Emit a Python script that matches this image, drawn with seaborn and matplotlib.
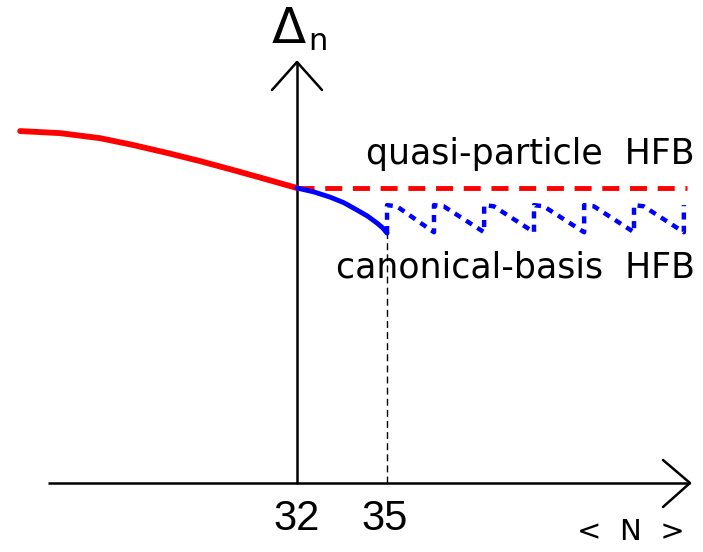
import matplotlib
matplotlib.use("Agg")
import matplotlib.pyplot as plt
import seaborn as sns
import numpy as np

sns.set_theme(style="white")
plt.rcParams['font.family'] = ['DejaVu Sans']
plt.rcParams['text.color'] = 'black'

red_n = [22.56, 23.92, 25.28, 26.40, 27.57, 28.70, 29.82, 30.90, 32.0]
red_d = [1.193, 1.186, 1.169, 1.146, 1.119, 1.091, 1.061, 1.031, 1.0]

qp_n = [32.0, 45.3]
qp_d = [1.0, 1.0]

blue_n = [32.0, 32.60, 33.13, 33.60, 34.05, 34.40, 34.73, 34.92, 35.07]
blue_d = [1.0, 0.986, 0.969, 0.950, 0.925, 0.905, 0.881, 0.865, 0.847]

saw_n = [35.07, 35.07, 35.40, 36.67, 36.67, 37.00, 38.38, 38.38, 38.71, 40.08,
         40.08, 40.41, 41.79, 41.79, 42.12, 43.49, 43.49, 43.82, 45.19, 45.19]
saw_d = [0.847, 0.942, 0.938, 0.850, 0.942, 0.938, 0.850, 0.942, 0.938, 0.850,
         0.942, 0.938, 0.850, 0.942, 0.938, 0.850, 0.942, 0.938, 0.850, 0.942]

tick_vals = [32, 35]
tick_labels = ["32", "35"]

# ---- figure ----
fig = plt.figure(figsize=(7.03, 5.52), dpi=100)
ax = fig.add_axes([0, 0, 1, 1])
px = 29.33   # pixels per N unit
py = 295.0   # pixels per Delta unit
ax.set_xlim(32 - 297 / px, 32 + 406 / px)
ax.set_ylim((483 - 552) / py, 483 / py)
ax.axis("off")

# axes with arrow heads
x0, x1 = 32 - 249 / px, 32 + 393 / px
ax.plot([x0, x1], [0, 0], color="black", lw=1.8, solid_capstyle="butt")
ax.plot([x1 - 27 / px, x1, x1 - 27 / px], [23 / py, 0, -24 / py], color="black", lw=1.8)
ytop = (483 - 62) / py
ax.plot([32, 32], [0, ytop], color="black", lw=1.8)
ax.plot([32 - 25 / px, 32, 32 + 25 / px], [ytop - 28 / py, ytop, ytop - 28 / py], color="black", lw=1.8)

# dashed guide at N = 35
ax.plot([35.07, 35.07], [0, 0.847], color="black", lw=1.0, ls=(0, (5, 3)))

# curves
sns.lineplot(x=red_n, y=red_d, ax=ax, color="#ff0000", lw=4.2, sort=False, estimator=None)
sns.lineplot(x=qp_n, y=qp_d, ax=ax, color="#ff0000", lw=3.5, sort=False, estimator=None,
             linestyle=(0, (3.5, 2.2)))
sns.lineplot(x=blue_n, y=blue_d, ax=ax, color="#0000ff", lw=3.5, sort=False, estimator=None)
sns.lineplot(x=saw_n, y=saw_d, ax=ax, color="#0000ff", lw=3.2, sort=False, estimator=None,
             linestyle=(0, (1.6, 1.4)))

# tick labels
for v, t in zip(tick_vals, tick_labels):
    ax.text(v, -36 / py, t, ha="center", va="center", fontsize=30, color="black",
            family="Liberation Sans")

# labels
ax.text(32 + 398 / px, 1.0 + 34 / py, "quasi-particle  HFB", ha="right", va="center",
        fontsize=25, color="black")
ax.text(32 + 398 / px, (483 - 267) / py, "canonical-basis  HFB", ha="right", va="center",
        fontsize=25, color="black")
ax.text(32 + 334 / px, (483 - 532) / py, "<  N  >", ha="center", va="center", fontsize=21,
        color="black")
ax.text(32 - 8 / px, (483 - 29) / py, r"$\mathsf{\Delta}$", ha="center", va="center",
        fontsize=36, color="black")
ax.text(32 + 21 / px, (483 - 41) / py, "n", ha="center", va="center", fontsize=22,
        color="black")

fig.savefig("out.png", dpi=100)
